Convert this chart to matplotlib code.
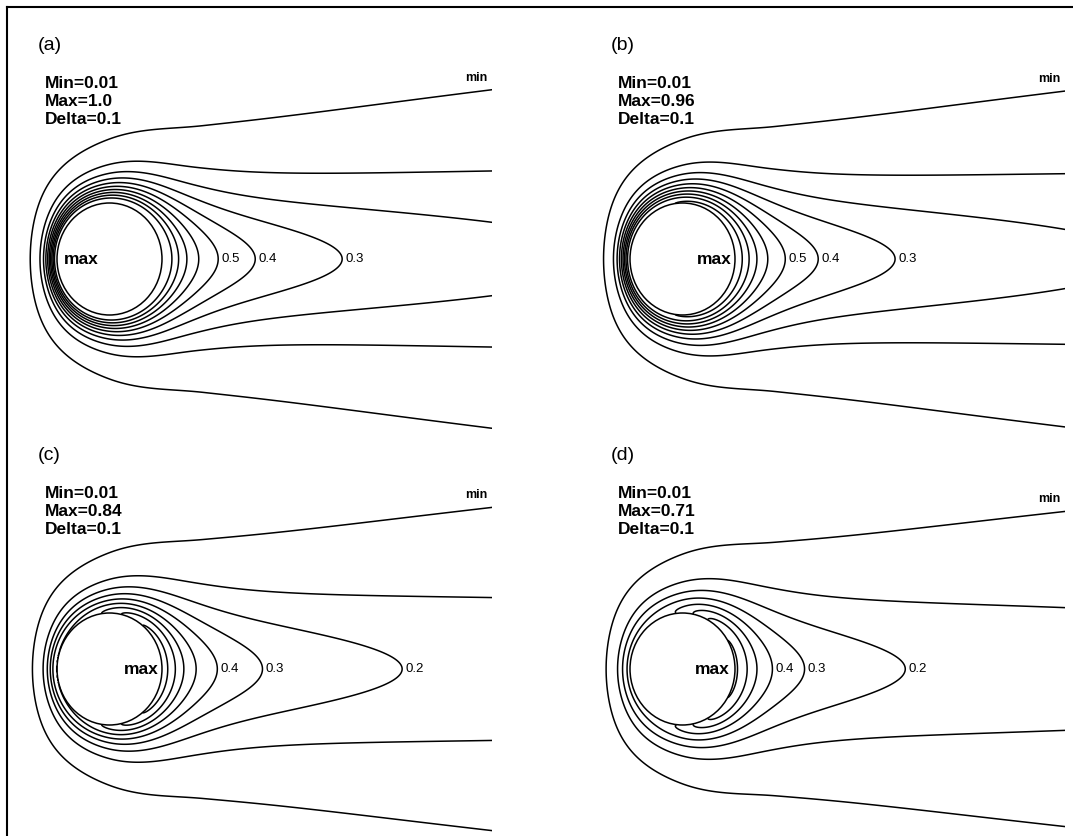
import numpy as np
import matplotlib.pyplot as plt
from matplotlib.lines import Line2D

plt.rcParams['font.family'] = ['Liberation Sans', 'DejaVu Sans']

# four cases of the scalar field around a cylinder in cross flow
panel_tags = ['(a)', '(b)', '(c)', '(d)']
field_min = [0.01, 0.01, 0.01, 0.01]
field_max = [1.0, 0.96, 0.84, 0.71]
field_delta = [0.1, 0.1, 0.1, 0.1]

# surface value at the upstream point, shape of the surface profile, far-field scale
surf_front = [1.0, 0.88, 0.50, 0.32]
surf_shape = [1.0, 1.5, 1.3, 1.8]
far_scale = [1.0, 0.95, 0.75, 0.65]
relax_len = [0.7, 0.7, 1.5, 0.7]

# contour levels that get a value label at their downstream tip
labelled = [[0.5, 0.4, 0.3], [0.5, 0.4, 0.3], [0.4, 0.3, 0.2], [0.4, 0.3, 0.2]]


def erfc(z):
    # Abramowitz & Stegun 7.1.26, z >= 0
    t = 1.0 / (1.0 + 0.3275911 * z)
    poly = t * (0.254829592 + t * (-0.284496736 + t * (1.421413741
           + t * (-1.453152027 + t * 1.061405429))))
    return poly * np.exp(-z * z)


def field(x, y, front, shape, scale, top, relax):
    r2 = x * x + y * y
    r2 = np.where(r2 == 0, 1e-9, r2)
    r = np.sqrt(r2)
    d = np.clip(r - 1, 0, None)
    # potential-flow coordinates: the cylinder maps onto the slit -2 <= phi <= 2
    phi = x * (1 + 1 / r2)
    psi = y * (1 - 1 / r2)
    zeta = phi + 2
    eta = np.hypot(zeta, psi) - zeta          # parabolic distance from the front point
    t = np.clip(zeta / 4, 0, 1)
    u = t * t * (3 - 2 * t)                   # 0 at the front, 1 at the rear
    v = np.clip(-x / r, 0, 1)                 # 1 on the upstream axis, 0 at the sides
    k = 5.4 + 5.8 * v ** 4.6 + 0.7 * np.clip(2 * u - 1, 0, None) ** 2
    # slow decay with distance from the wall (mainly felt in the wake)
    loss = 0.195 * np.log1p((d / 0.34) ** 2)
    arg = k * eta + 1.2 * eta ** 2 + loss
    base = erfc(np.sqrt(arg + 0.0625) - 0.25)
    # non-uniform surface value, relaxing to a far-field scale
    surf = front + (top - front) * u ** shape
    mod = scale + (surf - scale) * np.exp(-d / relax)
    T = base * mod
    return np.where(r < 1, np.nan, T)


W_PX, H_PX = 1073, 836
SX, SY = 52.5, 56.0
XLIM = (-1.95, 7.29)
YLIM = (-3.3, 4.1)
centers = [(109.5, 259), (682.5, 259), (109.5, 669), (682.5, 669)]
max_pos = [-0.87, 0.27, 0.27, 0.24]

fig = plt.figure(figsize=(W_PX / 100, H_PX / 100), dpi=100)

xg = np.linspace(XLIM[0], XLIM[1], 900)
yg = np.linspace(YLIM[0], YLIM[1], 720)
X, Y = np.meshgrid(xg, yg)

for i in range(4):
    cx, cy = centers[i]
    left = cx + XLIM[0] * SX
    right = cx + XLIM[1] * SX
    top_px = cy - YLIM[1] * SY
    bot_px = cy - YLIM[0] * SY
    ax = fig.add_axes([left / W_PX, 1 - bot_px / H_PX,
                       (right - left) / W_PX, (bot_px - top_px) / H_PX])
    ax.set_xlim(XLIM)
    ax.set_ylim(YLIM)
    ax.axis('off')

    args = (surf_front[i], surf_shape[i], far_scale[i], field_max[i], relax_len[i])
    T = field(X, Y, *args)

    step = field_delta[i]
    levels = [field_min[i]] + [round(step * k, 2) for k in range(1, 10)
                               if step * k < field_max[i] - 1e-6]
    ax.contour(X, Y, T, levels=levels, colors='black', linewidths=1.1)
    ax.add_patch(plt.Circle((0, 0), 1.0, fill=False, color='black', lw=1.1))

    # value labels next to the downstream tip of the closed contours
    xs = np.linspace(1.0, XLIM[1], 3000)
    axis_vals = field(xs, np.zeros_like(xs), *args)
    for lev in labelled[i]:
        tip = np.interp(lev, axis_vals[::-1], xs[::-1])
        ax.text(tip + 3 / SX, 0, f'{lev}', fontsize=9.5, ha='left', va='center')

    # "min" above the right end of the outermost contour
    ys = np.linspace(0, YLIM[1], 3000)
    edge_vals = field(np.full_like(ys, XLIM[1]), ys, *args)
    y_end = np.interp(field_min[i], edge_vals[::-1], ys[::-1])
    ax.text(XLIM[1] - 5 / SX, y_end + 6 / SY, 'min', fontsize=9, fontweight='bold',
            ha='right', va='bottom')

    ax.text(max_pos[i], 0, 'max', fontsize=12.5, fontweight='bold', ha='left', va='center')

    ax.text((38 - 109.5) / SX, (259 - 45) / SY, panel_tags[i], fontsize=14,
            ha='left', va='center')
    stats = [f'Min={field_min[i]}', f'Max={field_max[i]}', f'Delta={field_delta[i]}']
    for j, s in enumerate(stats):
        ax.text((45 - 109.5) / SX, (259 - 83 - 18.5 * j) / SY, s, fontsize=12.5,
                fontweight='bold', ha='left', va='center')

# frame on the left and top
fig.add_artist(Line2D([7 / W_PX, 7 / W_PX], [0, 1 - 7 / H_PX], color='black', lw=1.5))
fig.add_artist(Line2D([7 / W_PX, 1], [1 - 7 / H_PX, 1 - 7 / H_PX], color='black', lw=1.5))

fig.savefig('out.png', dpi=100)
